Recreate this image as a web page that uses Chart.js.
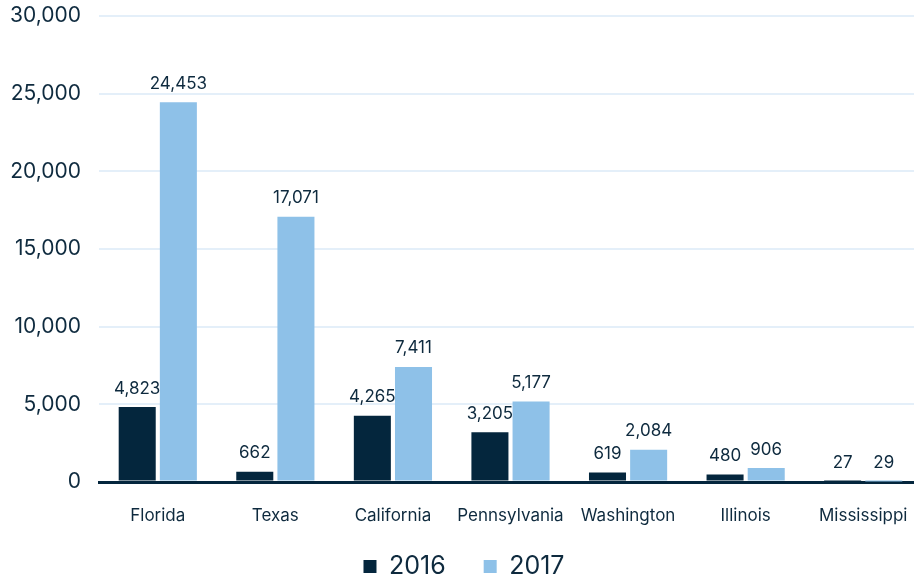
<!DOCTYPE html>
<html>
<head>
<meta charset="utf-8">
<script src="https://cdn.jsdelivr.net/npm/chart.js@4.4.1/dist/chart.umd.min.js"></script>
<style>
  html, body { margin: 0; padding: 0; background: #ffffff; overflow: hidden; }
  #wrap { width: 914px; height: 579px; overflow: hidden; }
</style>
</head>
<body>
<div id="wrap"><canvas id="chart" width="922" height="579"></canvas></div>
<script>
// ======= Data =======
const states = ["Florida", "Texas", "California", "Pennsylvania", "Washington", "Illinois", "Mississippi"];
const values2016 = [4823, 662, 4265, 3205, 619, 480, 27];
const values2017 = [24453, 17071, 7411, 5177, 2084, 906, 29];
const seriesLabels = ["2016", "2017"];

const DARK = "#04263d";
const LIGHT = "#8ec1e8";
const TEXT = "#0e2a3e";
const FONT = "Inter, 'Open Sans', sans-serif";

// ======= Value labels above bars =======
const valueLabels = {
  id: "valueLabels",
  afterDatasetsDraw(chart) {
    const ctx = chart.ctx;
    ctx.save();
    ctx.font = "17px " + FONT;
    ctx.fillStyle = TEXT;
    ctx.textAlign = "center";
    ctx.textBaseline = "bottom";
    chart.data.datasets.forEach((ds, i) => {
      chart.getDatasetMeta(i).data.forEach((bar, j) => {
        ctx.fillText(ds.data[j].toLocaleString("en-US"), bar.x, bar.y - 10);
      });
    });
    ctx.restore();
  }
};

// ======= Legend: wide item spacing, but sitting low =======
const legendPlace = {
  id: "legendPlace",
  beforeInit(chart) {
    const fit = chart.legend.fit;
    chart.legend.fit = function () {
      fit.bind(chart.legend)();
      this.height = 51;
    };
  },
  afterLayout(chart) {
    chart.legend.top -= 12;
    chart.legend.left += 3;
    chart.legend.right += 3;
  }
};

new Chart(document.getElementById("chart"), {
  type: "bar",
  data: {
    labels: states,
    datasets: [
      { label: seriesLabels[0], data: values2016, backgroundColor: DARK, barPercentage: 0.9, categoryPercentage: 0.7 },
      { label: seriesLabels[1], data: values2017, backgroundColor: LIGHT, barPercentage: 0.9, categoryPercentage: 0.7 }
    ]
  },
  options: {
    responsive: false,
    animation: false,
    layout: { padding: 0 },
    plugins: {
      legend: {
        position: "bottom",
        labels: {
          boxWidth: 13, boxHeight: 13, padding: 38,
          color: TEXT,
          font: { family: FONT, size: 25 }
        }
      },
      tooltip: { enabled: false }
    },
    scales: {
      x: {
        grid: { display: false, drawTicks: false },
        border: { display: true, color: DARK, width: 3 },
        ticks: { color: TEXT, font: { family: FONT, size: 17 }, padding: 24 },
        afterFit(scale) { scale.height = 46; scale.paddingLeft = 0; scale.paddingRight = 0; }
      },
      y: {
        min: 0, max: 30000,
        ticks: {
          stepSize: 5000, color: TEXT, padding: 18,
          font: { family: FONT, size: 21 },
          callback: v => v.toLocaleString("en-US")
        },
        grid: {
          drawTicks: false,
          color: c => c.tick.value === 0 ? DARK : "#e4eff9",
          lineWidth: c => c.tick.value === 0 ? 3 : 2
        },
        border: { display: false },
        afterFit(scale) { scale.width = 99; scale.paddingTop = 16; scale.paddingBottom = 0; }
      }
    }
  },
  plugins: [valueLabels, legendPlace]
});
</script>
</body>
</html>
